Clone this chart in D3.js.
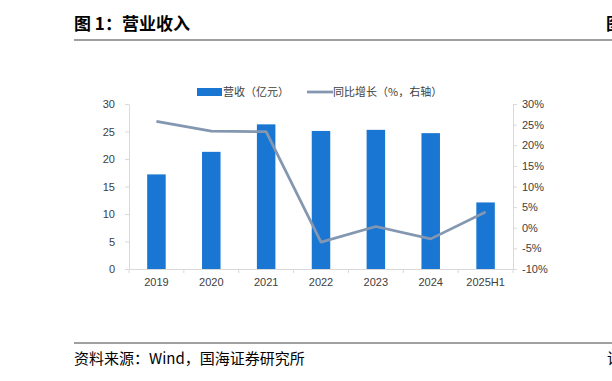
<!DOCTYPE html>
<html>
<head>
<meta charset="utf-8">
<script src="https://cdn.jsdelivr.net/npm/d3@7"></script>
<style>
  body { margin: 0; background: #fff; }
  svg { display: block; font-family: "Microsoft YaHei", "Noto Sans CJK SC", sans-serif; }
</style>
</head>
<body>
<div id="chart"></div>
<script>
  // data
  years = ["2019", "2020", "2021", "2022", "2023", "2024", "2025H1"]
  revenue = [17.2, 21.3, 26.3, 25.1, 25.3, 24.7, 12.1]
  growth = [25.8, 23.4, 23.3, -3.5, 0.3, -2.7, 3.8]
  leftTicks = [0, 5, 10, 15, 20, 25, 30]
  rightTicks = [-10, -5, 0, 5, 10, 15, 20, 25, 30]

  canvas = ({width: 612, height: 381})
  margin = ({top: 104, right: 99, bottom: 112, left: 129})

  barBlue = "#1976d2"
  lineGray = "#8497b0"
  axisGray = "#d9d9d9"
  txt = "#404040"

  svg = d3.select("#chart").append("svg")
    .attr("width", canvas.width)
    .attr("height", canvas.height)

  // header + footer
  svg.append("text")
    .attr("x", 74).attr("y", 30)
    .attr("font-size", 17).attr("font-weight", "bold").attr("fill", "#000")
    .text("图 1：营业收入")
  svg.append("text")
    .attr("x", 606).attr("y", 30)
    .attr("font-size", 17).attr("font-weight", "bold").attr("fill", "#000")
    .text("图")
  svg.append("line")
    .attr("x1", 74).attr("x2", canvas.width).attr("y1", 40).attr("y2", 40)
    .attr("stroke", "#7f7f7f").attr("stroke-width", 1.5)
  svg.append("line")
    .attr("x1", 74).attr("x2", canvas.width).attr("y1", 343).attr("y2", 343)
    .attr("stroke", "#404040").attr("stroke-width", 1)
  svg.append("text")
    .attr("x", 74).attr("y", 364)
    .attr("font-size", 15).attr("fill", "#000")
    .text("资料来源：Wind，国海证券研究所")
  svg.append("text")
    .attr("x", 607).attr("y", 364)
    .attr("font-size", 15).attr("fill", "#000")
    .text("请")

  x = d3.scaleBand()
    .domain(years)
    .range([margin.left, canvas.width - margin.right])

  yL = d3.scaleLinear()
    .domain([0, 30])
    .range([canvas.height - margin.bottom, margin.top])

  yR = d3.scaleLinear()
    .domain([-10, 30])
    .range([canvas.height - margin.bottom, margin.top])

  // axes
  gx = svg.append("g")
    .attr("transform", `translate(0,${canvas.height - margin.bottom})`)
    .call(d3.axisBottom(x).tickSize(0).tickPadding(9))
  gx.selectAll(".tick text").attr("font-size", 11).attr("fill", txt)
  gx.select(".domain").attr("stroke", axisGray)
  gx.selectAll(".sep")
    .data(d3.range(years.length + 1))
    .join("line")
    .attr("class", "sep")
    .attr("x1", i => margin.left + i * x.step())
    .attr("x2", i => margin.left + i * x.step())
    .attr("y1", 0).attr("y2", 4)
    .attr("stroke", axisGray)

  gl = svg.append("g")
    .attr("transform", `translate(${margin.left},0)`)
    .call(d3.axisLeft(yL).tickValues(leftTicks).tickSize(4).tickPadding(10).tickSizeOuter(0))
  gl.selectAll(".tick text").attr("font-size", 11).attr("fill", txt)
  gl.selectAll(".tick line, .domain").attr("stroke", axisGray)

  gr = svg.append("g")
    .attr("transform", `translate(${canvas.width - margin.right},0)`)
    .call(d3.axisRight(yR).tickValues(rightTicks).tickFormat(d => d + "%").tickSize(4).tickPadding(5).tickSizeOuter(0))
  gr.selectAll(".tick text").attr("font-size", 11).attr("fill", txt)
  gr.selectAll(".tick line, .domain").attr("stroke", axisGray)

  // bars
  barW = 18.5
  svg.append("g")
    .selectAll("rect")
    .data(revenue)
    .join("rect")
    .attr("x", (d, i) => x(years[i]) + x.bandwidth() / 2 - barW / 2)
    .attr("y", d => yL(d))
    .attr("width", barW)
    .attr("height", d => yL(0) - yL(d))
    .attr("fill", barBlue)

  // line
  line = d3.line()
    .x((d, i) => x(years[i]) + x.bandwidth() / 2)
    .y(d => yR(d))
  svg.append("path")
    .attr("fill", "none")
    .attr("stroke", lineGray)
    .attr("stroke-width", 2.75)
    .attr("stroke-linejoin", "round")
    .attr("d", line(growth))

  // legend
  lg = svg.append("g").attr("font-size", 11).attr("fill", txt)
  lg.append("rect")
    .attr("x", 197).attr("y", 88).attr("width", 25).attr("height", 8)
    .attr("fill", barBlue)
  lg.append("text").attr("x", 223).attr("y", 96).text("营收（亿元）")
  lg.append("line")
    .attr("x1", 307).attr("x2", 333).attr("y1", 92).attr("y2", 92)
    .attr("stroke", lineGray).attr("stroke-width", 2.75)
  lg.append("text").attr("x", 333).attr("y", 96).text("同比增长（%，右轴）")
</script>
</body>
</html>
